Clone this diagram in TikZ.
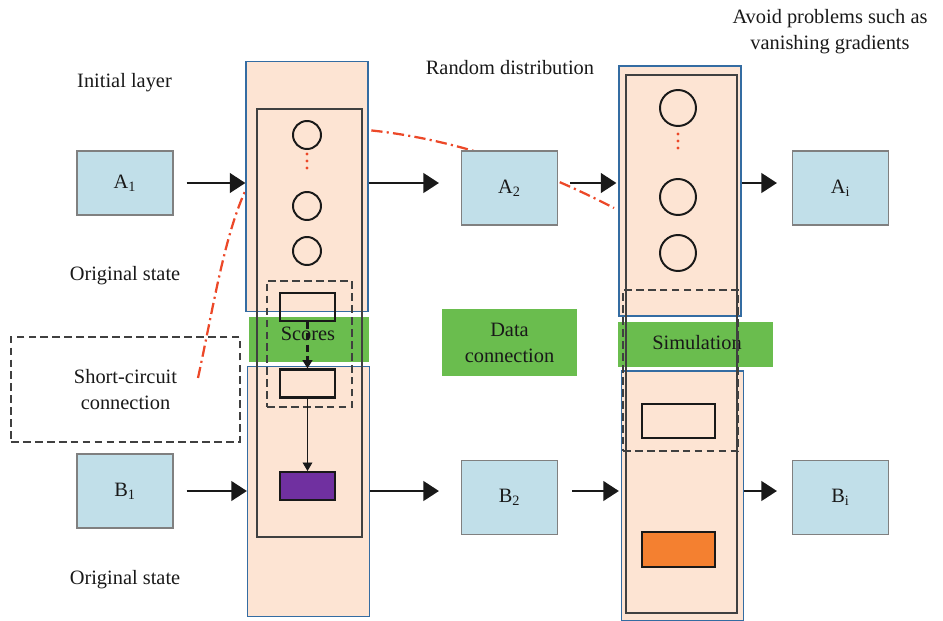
\documentclass[tikz,border=0pt]{standalone}
\usepackage{fontspec}
\setmainfont{Liberation Serif}
\usetikzlibrary{positioning,arrows.meta}
\definecolor{peach}{RGB}{253,228,211}
\definecolor{colblue}{RGB}{52,108,162}
\definecolor{boxblue}{RGB}{193,223,233}
\definecolor{mygreen}{RGB}{106,189,78}
\definecolor{myred}{RGB}{236,72,40}
\definecolor{mypurple}{RGB}{112,48,160}
\definecolor{myorange}{RGB}{244,128,48}

\begin{document}
\begin{tikzpicture}[x=0.025cm, y=-0.025cm,
    font=\fontsize{14.5}{18.5}\selectfont, text=black!90,
    col/.style={draw=colblue, fill=peach, line width=0.9pt, minimum width=3.05cm, minimum height=6.25cm, inner sep=0},
    inbox/.style={draw=black!75, line width=1pt, inner sep=0},
    dbox/.style={draw=black!75, dash pattern=on 5.5pt off 3pt, line width=1pt, inner sep=0},
    unit/.style={draw=black!90, line width=1.5pt, minimum width=1.375cm, minimum height=0.7cm, inner sep=0},
    neuron/.style={circle, draw=black!90, line width=1.4pt, minimum size=0.7cm, inner sep=0},
    gbar/.style={fill=mygreen, inner sep=0},
    state/.style={draw=black!50, fill=boxblue, line width=0.8pt, minimum width=2.4cm, minimum height=1.85cm},
    arr/.style={-{Triangle[length=11pt,width=14pt]}, line width=1.3pt, black!90},
    link/.style={draw=myred, line width=1.6pt, dash pattern=on 8pt off 3pt on 1.5pt off 3pt}]
    \useasboundingbox (0,0) rectangle (943,620);

    % short-circuit curve (behind everything)
    \coordinate (cs) at (198,378);
    \coordinate (cm) at (367,130);
    \coordinate (ce) at (614,208);
    \draw[link] (cs) .. controls (230,230) and (240,100) .. (cm)
                     .. controls (470,140) and (560,180) .. (ce);

    % columns
    \node[col] (colLa) at (307,186.5) {};
    \node[col] (colLb) at (308.5,491.5) {};
    \node[col] (colRa) at (680,191) {};
    \node[col] (colRb) at (682.5,496) {};

    % green bars
    \node[gbar, minimum width=3cm, minimum height=1.125cm] (gS) at (309,339.5) {};
    \node at (308,334) {Scores};
    \node[gbar, minimum width=3.375cm, minimum height=1.675cm, align=center] (gD) at (509.5,342.5) {Data\\connection};
    \node[gbar, minimum width=3.875cm, minimum height=1.125cm] (gSim) at (695.5,344) {};
    \node at (697,343) {Simulation};

    % inner frames
    \node[inbox, minimum width=2.625cm, minimum height=10.7cm] (inL) at (309.5,323) {};
    \node[dbox, minimum width=2.125cm, minimum height=3.15cm] (dL) at (309.5,344) {};
    \node[inbox, minimum width=2.775cm, minimum height=13.45cm] (inR) at (681.5,344) {};
    \node[dbox, minimum width=2.875cm, minimum height=4.025cm] (dR) at (680.5,370.5) {};

    % neurons
    \node[neuron] (nL1) at (307,135) {};
    \node[neuron] (nL2) at (307,206) {};
    \node[neuron] (nL3) at (307,251) {};
    \node[neuron, minimum size=0.9cm] (nR1) at (678,108) {};
    \node[neuron, minimum size=0.9cm] (nR2) at (678,197) {};
    \node[neuron, minimum size=0.9cm] (nR3) at (678,253) {};
    \foreach \y in {154,161,168} \fill[myred] (307,\y) circle (1.1pt);
    \foreach \y in {134,141,148} \fill[myred] (678,\y) circle (1.1pt);

    % units
    \node[unit] (uL1) at (307.5,307) {};
    \node[unit] (uL2) at (307.5,383.5) {};
    \node[unit, fill=mypurple] (uL3) at (307.5,486) {};
    \node[unit, minimum width=1.825cm, minimum height=0.85cm] (uR1) at (678.5,421) {};
    \node[unit, fill=myorange, minimum width=1.825cm, minimum height=0.875cm] (uR2) at (678.5,549.5) {};
    \draw[line width=1.6pt, dash pattern=on 5pt off 3pt, black!90, -{Triangle[length=6pt,width=7pt]}] (uL1) -- (uL2);
    \draw[line width=0.6pt, black!90, -{Triangle[length=6pt,width=7pt]}] (uL2) -- (uL3);

    % states
    \node[state, minimum height=1.6cm] (A1) at (125,183) {A\textsubscript{1}};
    \node[state] (B1) at (125,491) {B\textsubscript{1}};
    \node[state] (A2) at (509.5,188) {A\textsubscript{2}};
    \node[state] (B2) at (509.5,497.5) {B\textsubscript{2}};
    \node[state] (Ai) at (840.5,188) {A\textsubscript{i}};
    \node[state] (Bi) at (840.5,497.5) {B\textsubscript{i}};

    \draw[arr, shorten <=0.325cm] (A1) -- (A1 -| colLa.west);
    \draw[arr, shorten >=0.55cm] (A1 -| colLa.east) -- (A1 -| A2.west);
    \draw[arr, shorten <=0.3cm, shorten >=0.05cm] (A1 -| A2.east) -- (A1 -| colRa.west);
    \draw[arr, shorten >=0.375cm] (A1 -| colRa.east) -- (A1 -| Ai.west);
    \draw[arr, shorten <=0.325cm] (B1) -- (B1 -| colLb.west);
    \draw[arr, shorten >=0.55cm] (B1 -| colLb.east) -- (B1 -| B2.west);
    \draw[arr, shorten <=0.35cm, shorten >=0.05cm] (B1 -| B2.east) -- (B1 -| colRb.west);
    \draw[arr, shorten >=0.375cm] (B1 -| colRb.east) -- (B1 -| Bi.west);

    % labels
    \node[dbox, minimum width=5.725cm, minimum height=2.625cm, align=center] (sc) at (125.5,389.5) {Short-circuit\\connection};
    \node (init) at (124.5,83) {Initial layer};
    \node (origA) at (125,276) {Original state};
    \node (origB) at (125,580) {Original state};
    \node (rand) at (510,68) {Random distribution};
    \node[align=center] (avoid) at (830,32) {Avoid problems such as\\vanishing gradients};
\end{tikzpicture}
\end{document}
